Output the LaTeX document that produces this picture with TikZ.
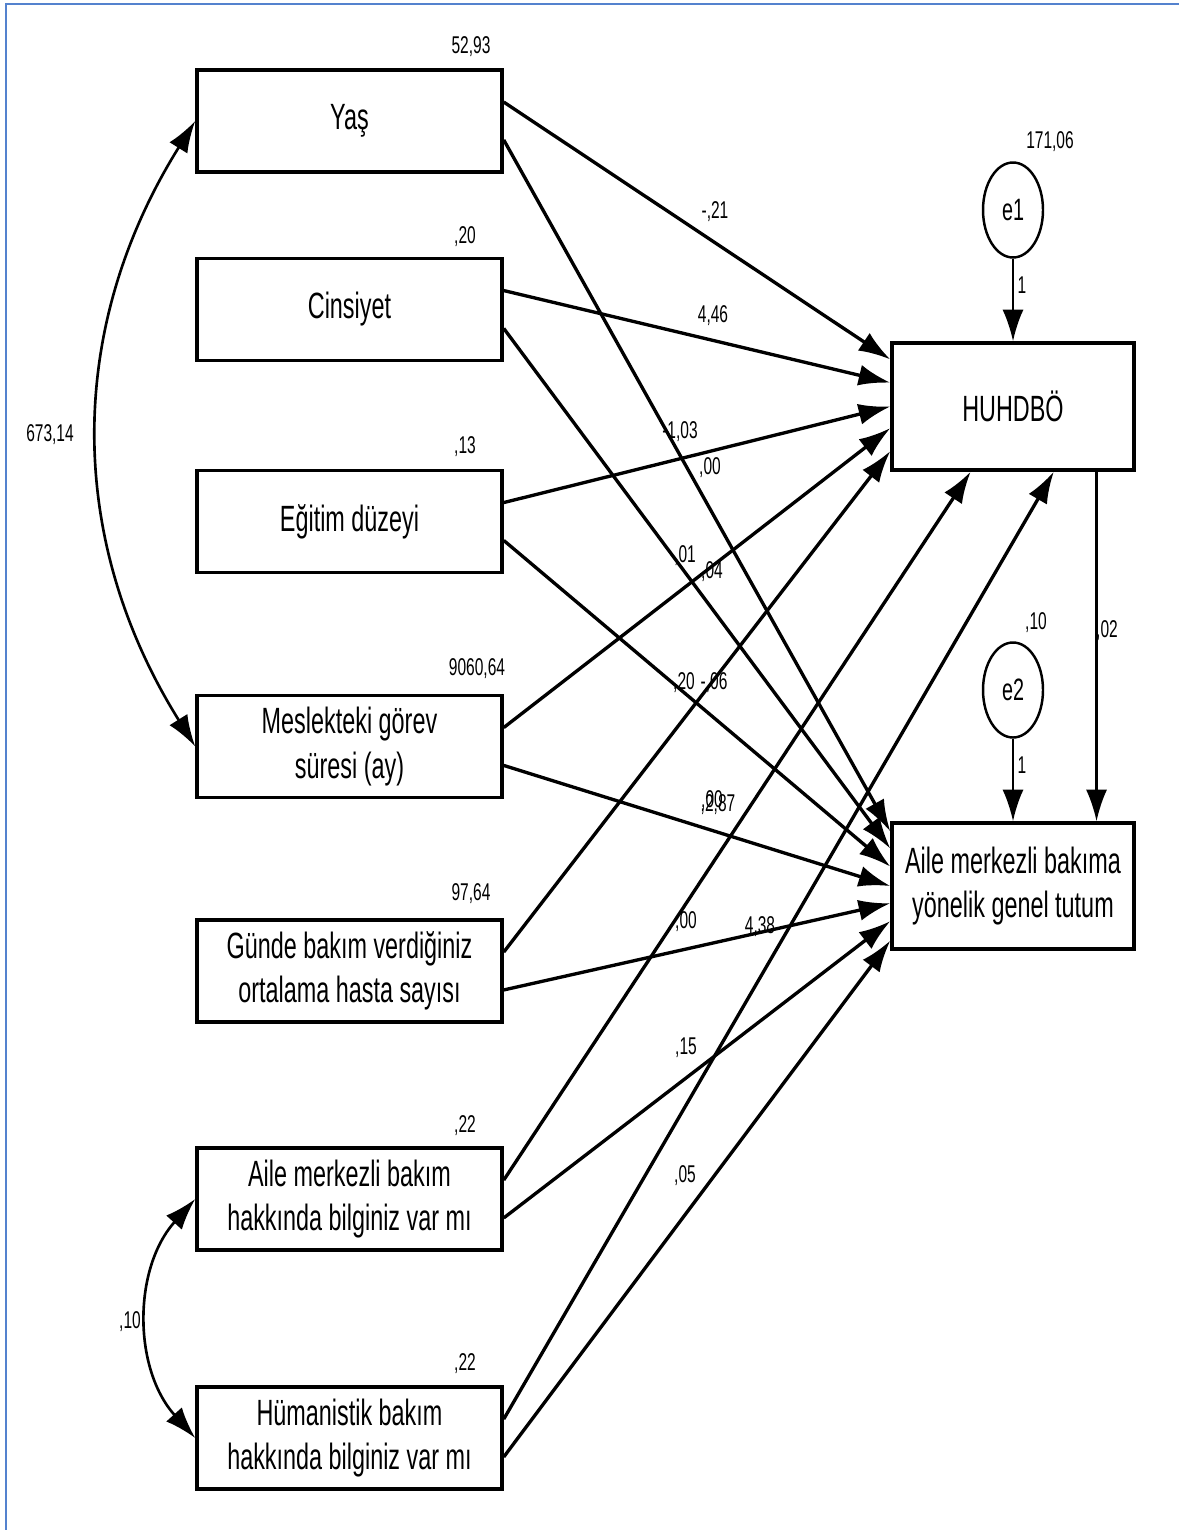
\documentclass[tikz,border=0pt]{standalone}
\usepackage{fontspec}
\setmainfont[FakeStretch=0.64]{Liberation Sans}
\usetikzlibrary{positioning,arrows.meta,shapes.geometric}

\definecolor{frameblue}{RGB}{84,130,206}

\begin{document}
\begin{tikzpicture}[
		box/.style={draw,line width=1pt,inner sep=0pt,align=center,
			minimum width=3.05cm,minimum height=1.02cm,
			font=\fontsize{10.4}{12.6}\selectfont},
		endo/.style={box,minimum width=2.42cm,minimum height=1.27cm},
		err/.style={draw,ellipse,line width=0.7pt,inner sep=0pt,
			minimum width=0.6cm,minimum height=0.95cm,
			font=\fontsize{8.8}{10}\selectfont},
		num/.style={inner sep=0pt,font=\fontsize{6.9}{8}\selectfont},
		reg/.style={line width=0.95pt,-{Latex[length=9pt,width=6pt]}},
		fix/.style={line width=0.65pt,-{Latex[length=9pt,width=6pt]}},
		cov/.style={line width=0.75pt,{Latex[length=9pt,width=6pt]}-{Latex[length=9pt,width=6pt]}}
	]
	\useasboundingbox (0,0) rectangle (11.79,-15.30);
	% frame
	\draw[frameblue,line width=0.6pt] (0.06,-15.30) -- (0.06,-0.04) -- (11.79,-0.04);

	% Exogenous variables
	\node[box] (yas) at (3.495,-1.21) {Yaş};
	\node[box] (cins) at (3.495,-3.095) {Cinsiyet};
	\node[box] (egit) at (3.495,-5.215) {Eğitim düzeyi};
	\node[box] (mesl) at (3.495,-7.465) {Meslekteki görev\\süresi (ay)};
	\node[box] (gunde) at (3.495,-9.71) {Günde bakım verdiğiniz\\ortalama hasta sayısı};
	\node[box] (aileb) at (3.495,-11.99) {Aile merkezli bakım\\hakkında bilginiz var mı};
	\node[box] (human) at (3.495,-14.38) {Hümanistik bakım\\hakkında bilginiz var mı};

	% Endogenous variables and errors
	\node[endo] (huh) at (10.13,-4.065) {HUHDBÖ};
	\node[endo,minimum height=1.26cm] (aile) at (10.13,-8.86) {Aile merkezli bakıma\\yönelik genel tutum};
	\node[err] (e1) at (10.13,-2.10) {e1};
	\node[err] (e2) at (10.13,-6.90) {e2};

	% Variances
	\node[num] (vyas) at (4.71,-0.47) {52,93};
	\node[num] (vcins) at (4.65,-2.37) {,20};
	\node[num] (vegit) at (4.65,-4.47) {,13};
	\node[num] (vmesl) at (4.77,-6.69) {9060,64};
	\node[num] (vgunde) at (4.71,-8.94) {97,64};
	\node[num] (vaileb) at (4.65,-11.26) {,22};
	\node[num] (vhuman) at (4.65,-13.64) {,22};
	\node[num] (ve1) at (10.50,-1.42) {171,06};
	\node[num] (ve2) at (10.36,-6.23) {,10};

	% Covariances
	\draw[cov] (yas.west) to[bend right=32] (mesl.west);
	\draw[cov] (aileb.west) to[bend right=42] (human.west);
	\node[num] (cyas) at (0.50,-4.35) {673,14};
	\node[num] (caileb) at (1.30,-13.22) {,10};

	% Paths to HUHDBÖ
	\draw[reg] (yas.7) -- (huh.159);
	\draw[reg] (cins.7) -- (huh.169);
	\draw[reg] (egit.7) -- (huh.180);
	\draw[reg] (mesl.7) -- (huh.190);
	\draw[reg] (gunde.7) -- (huh.200.6);
	\draw[reg] (aileb.7) -- (huh.237.1);
	\draw[reg] (human.7) -- (huh.302.2);

	% Paths to tutum
	\draw[reg] (yas.-7) -- (aile.156);
	\draw[reg] (cins.-7) -- (aile.163.4);
	\draw[reg] (egit.-7) -- (aile.171.5);
	\draw[reg] (mesl.-7) -- (aile.180);
	\draw[reg] (gunde.-7) -- (aile.188.5);
	\draw[reg] (aileb.-7) -- (aile.196.6);
	\draw[reg] (human.-7) -- (aile.204);

	\draw[fix] (e1) -- (huh);
	\draw[fix] (e2) -- (aile);
	\draw[fix] (huh.-38.4) -- (huh.-38.4 |- aile.north);

	% Weights
	\node[num] (w1) at (7.15,-2.12) {-,21};
	\node[num] (w2) at (7.13,-3.16) {4,46};
	\node[num] (w3) at (6.80,-4.32) {-1,03};
	\node[num] (w4) at (7.10,-4.68) {,00};
	\node[num] (w5) at (6.85,-5.56) {,01};
	\node[num] (w6) at (7.12,-5.72) {,04};
	\node[num] (w7) at (6.84,-6.83) {,20};
	\node[num] (w8) at (7.14,-6.83) {-,06};
	\node[num] (w9) at (7.12,-8.01) {,00};
	\node[num] (w10) at (7.18,-8.05) {,2,87};
	\node[num] (w11) at (6.86,-9.22) {,00};
	\node[num] (w12) at (7.60,-9.27) {4,38};
	\node[num] (w13) at (6.86,-10.48) {,15};
	\node[num] (w14) at (6.85,-11.76) {,05};
	\node[num] (f1) at (10.22,-2.85) {1};
	\node[num] (f2) at (10.22,-7.65) {1};
	\node[num] (w15) at (11.07,-6.31) {,02};
\end{tikzpicture}
\end{document}
